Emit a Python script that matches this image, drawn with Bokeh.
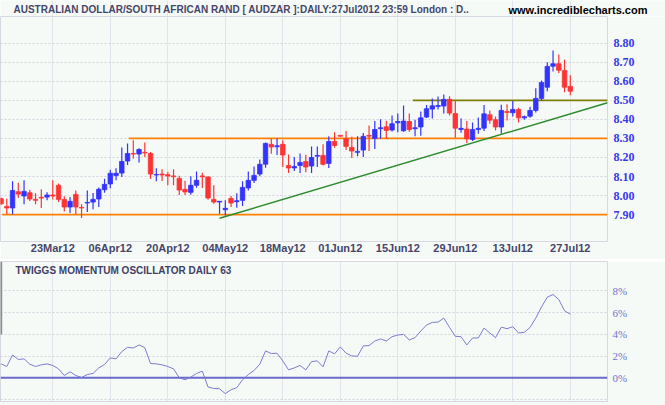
from bokeh.plotting import figure
from bokeh.models import ColumnDataSource, FixedTicker, Label, Range1d, Grid, PrintfTickFormatter
from bokeh.layouts import column
from bokeh.embed import file_html
from bokeh.resources import INLINE

# ---- data -----------------------------------------------------------------
opens = [7.984, 7.943, 7.935, 8.020, 7.998, 8.015, 7.980, 7.991, 7.992, 8.003,
         8.054, 7.980, 7.940, 8.006, 7.938, 7.961, 7.966, 7.982, 8.031, 8.061,
         8.106, 8.118, 8.181, 8.221, 8.218, 8.227, 8.221, 8.108, 8.113, 8.110,
         8.103, 8.090, 8.033, 8.017, 8.054, 8.103, 8.097, 7.980, 7.966, 7.926,
         7.985, 7.968, 7.975, 8.040, 8.080, 8.113, 8.165, 8.269, 8.256, 8.269,
         8.158, 8.145, 8.158, 8.179, 8.155, 8.207, 8.211, 8.169, 8.284, 8.316,
         8.298, 8.253, 8.227, 8.239, 8.316, 8.300, 8.351, 8.361, 8.344, 8.382,
         8.340, 8.389, 8.351, 8.360, 8.412, 8.454, 8.468, 8.470, 8.505, 8.431,
         8.347, 8.349, 8.295, 8.347, 8.354, 8.424, 8.398, 8.360, 8.442, 8.435,
         8.452, 8.408, 8.417, 8.447, 8.510, 8.569, 8.679, 8.692, 8.657, 8.573]
highs = [7.990, 7.984, 8.075, 8.068, 8.080, 8.031, 8.012, 8.033, 8.017, 8.080,
         8.064, 7.996, 7.992, 8.027, 7.954, 8.027, 8.013, 8.043, 8.089, 8.136,
         8.143, 8.253, 8.274, 8.290, 8.249, 8.279, 8.229, 8.143, 8.138, 8.124,
         8.138, 8.104, 8.078, 8.101, 8.127, 8.120, 8.103, 8.054, 7.972, 7.975,
         7.998, 8.012, 8.075, 8.127, 8.153, 8.190, 8.279, 8.300, 8.300, 8.291,
         8.216, 8.202, 8.221, 8.214, 8.258, 8.258, 8.269, 8.311, 8.332, 8.318,
         8.339, 8.309, 8.311, 8.328, 8.368, 8.391, 8.401, 8.393, 8.421, 8.431,
         8.473, 8.431, 8.398, 8.442, 8.475, 8.510, 8.520, 8.531, 8.522, 8.496,
         8.405, 8.391, 8.384, 8.410, 8.475, 8.447, 8.415, 8.477, 8.480, 8.496,
         8.461, 8.421, 8.466, 8.564, 8.604, 8.700, 8.762, 8.741, 8.713, 8.632]
lows = [7.950, 7.902, 7.902, 7.987, 7.954, 7.971, 7.954, 7.935, 7.975, 7.980,
        7.966, 7.917, 7.909, 7.902, 7.882, 7.914, 7.928, 7.940, 8.015, 8.038,
        8.080, 8.097, 8.160, 8.195, 8.174, 8.202, 8.087, 8.075, 8.076, 8.054,
        8.054, 8.003, 8.003, 8.005, 8.041, 8.040, 7.978, 7.957, 7.905, 7.896,
        7.940, 7.936, 7.945, 8.027, 8.066, 8.101, 8.146, 8.220, 8.213, 8.150,
        8.118, 8.129, 8.118, 8.122, 8.118, 8.150, 8.158, 8.145, 8.251, 8.310,
        8.239, 8.197, 8.206, 8.202, 8.234, 8.244, 8.298, 8.298, 8.337, 8.332,
        8.335, 8.335, 8.312, 8.314, 8.407, 8.405, 8.452, 8.431, 8.421, 8.304,
        8.330, 8.276, 8.286, 8.325, 8.339, 8.377, 8.342, 8.326, 8.394, 8.415,
        8.384, 8.398, 8.408, 8.436, 8.499, 8.548, 8.651, 8.643, 8.543, 8.527]
closes = [7.957, 7.935, 8.027, 8.008, 8.022, 7.982, 7.975, 7.987, 8.003, 7.998,
          7.980, 7.940, 7.970, 7.940, 7.935, 7.964, 7.980, 8.033, 8.059, 8.117,
          8.117, 8.179, 8.221, 8.218, 8.242, 8.224, 8.113, 8.111, 8.108, 8.103,
          8.099, 8.029, 8.019, 8.054, 8.080, 8.099, 7.987, 7.966, 7.970, 7.933,
          7.961, 7.973, 8.043, 8.080, 8.106, 8.164, 8.274, 8.255, 8.262, 8.213,
          8.145, 8.153, 8.174, 8.150, 8.200, 8.211, 8.164, 8.284, 8.263, 8.312,
          8.258, 8.234, 8.232, 8.311, 8.312, 8.347, 8.356, 8.342, 8.377, 8.389,
          8.391, 8.347, 8.356, 8.408, 8.456, 8.471, 8.473, 8.505, 8.433, 8.354,
          8.353, 8.298, 8.347, 8.353, 8.429, 8.396, 8.360, 8.447, 8.436, 8.452,
          8.408, 8.414, 8.447, 8.510, 8.594, 8.678, 8.692, 8.658, 8.569, 8.548]
momentum = [1.28, 1.04, 2.10, 1.68, 1.74, 1.25, 1.04, 1.19, 1.28, 1.13,
            0.82, 0.21, 0.55, 0.21, 0.03, 0.30, 0.40, 0.91, 1.22, 1.83,
            1.74, 2.41, 2.80, 2.74, 3.02, 2.77, 1.31, 1.28, 1.19, 1.04,
            0.82, 0.00, -0.18, 0.06, 0.40, 0.61, -0.85, -0.98, -1.01, -1.46,
            -1.10, -0.91, -0.18, 0.30, 0.67, 1.25, 2.47, 2.23, 2.26, 1.55,
            0.73, 0.91, 1.13, 0.73, 1.49, 1.55, 1.01, 2.47, 2.20, 2.84,
            2.26, 2.01, 1.98, 2.93, 2.96, 3.38, 3.57, 3.38, 3.78, 3.93,
            3.99, 3.48, 3.69, 4.30, 4.85, 5.09, 5.12, 5.49, 4.63, 3.81,
            3.78, 3.02, 3.66, 3.66, 4.57, 4.12, 3.69, 4.66, 4.51, 4.70,
            4.12, 4.18, 4.63, 5.49, 6.52, 7.41, 7.65, 7.20, 6.16, 5.85]

tick_days = [9, 19, 29, 39, 49, 59, 69, 79, 89, 99]
tick_labels = ["23Mar12", "06Apr12", "20Apr12", "04May12", "18May12",
               "01Jun12", "15Jun12", "29Jun12", "13Jul12", "27Jul12"]
price_ticks = [7.9, 8.0, 8.1, 8.2, 8.3, 8.4, 8.5, 8.6, 8.7, 8.8]
mom_ticks = [-2, 0, 2, 4, 6, 8]

support_low = 7.90
support_low_days = [0.2, 105.5]
support_mid = 8.30
support_mid_days = [22.2, 105.5]
resist = 8.50
resist_days = [71.6, 105.5]
trend_days = [38.0, 105.47]
trend_prices = [7.881, 8.487]

title_text = "AUSTRALIAN DOLLAR/SOUTH AFRICAN RAND [ AUDZAR ]:DAILY:27Jul2012 23:59 London : D.."
site_text = "www.incrediblecharts.com"
osc_title = "TWIGGS MOMENTUM OSCILLATOR DAILY 63"

# ---- styles ---------------------------------------------------------------
BG = "#F5FAF7"
UP = "#3333FF"
DOWN = "#FF3333"
GRID_V = "#E3E3EC"
GRID_H = "#D2D2DC"
TXT = "#46466A"
W = 665

days = list(range(len(opens)))
colors = [UP if c >= o else DOWN for o, c in zip(opens, closes)]
src = ColumnDataSource(dict(
    x=days, o=opens, h=highs, l=lows, c=closes,
    top=[max(o, c) for o, c in zip(opens, closes)],
    bot=[min(o, c) for o, c in zip(opens, closes)],
    col=colors, mom=momentum))

X0 = -0.096
xr = Range1d(X0, X0 + 607 / 5.75)

# ---- header strip (titles) -----------------------------------------------
hdr = figure(width=W, height=16, x_range=Range1d(X0, X0 + W / 5.75), y_range=Range1d(0, 16),
             x_axis_type=None, y_axis_type=None, output_backend="svg", toolbar_location=None,
             min_border_left=0, min_border_right=0, min_border_top=0, min_border_bottom=0)
hdr.frame_align = False
hdr.background_fill_color = BG
hdr.border_fill_color = BG
hdr.outline_line_color = None
hdr.add_layout(Grid(dimension=0, ticker=FixedTicker(ticks=tick_days), grid_line_color=GRID_V))
hdr.add_layout(Label(x=13, y=7, x_units="screen", y_units="screen", text=title_text,
                     text_font="Liberation Sans", text_font_style="bold",
                     text_font_size="10px", text_color=TXT, text_baseline="middle"))
hdr.add_layout(Label(x=508, y=7, x_units="screen", y_units="screen", text=site_text,
                     text_font="Liberation Sans", text_font_style="bold",
                     text_font_size="11px", text_color="#000000", text_baseline="middle"))

# ---- price panel ------------------------------------------------------------
p1 = figure(width=W, height=243, x_range=xr, y_range=Range1d(7.759, 8.940),
            y_axis_location="right", output_backend="svg", toolbar_location=None,
            min_border_left=0, min_border_top=0, min_border_right=58, min_border_bottom=18)
p1.background_fill_color = BG
p1.border_fill_color = BG
p1.outline_line_color = "#D8D8E0"

p1.xgrid.ticker = FixedTicker(ticks=tick_days)
p1.xgrid.grid_line_color = GRID_V
p1.ygrid.ticker = FixedTicker(ticks=price_ticks)
p1.ygrid.grid_line_color = GRID_H
p1.ygrid.grid_line_dash = "2 2"

p1.xaxis.ticker = FixedTicker(ticks=tick_days)
p1.xaxis.major_label_overrides = {d: t for d, t in zip(tick_days, tick_labels)}
p1.xaxis.axis_line_color = None
p1.xaxis.major_tick_line_color = None
p1.xaxis.minor_tick_line_color = None
p1.xaxis.major_tick_out = 0
p1.xaxis.major_tick_in = 0
p1.xaxis.major_label_standoff = 0
p1.xaxis.major_label_text_font = "Liberation Sans"
p1.xaxis.major_label_text_font_style = "bold"
p1.xaxis.major_label_text_font_size = "11px"
p1.xaxis.major_label_text_color = TXT

p1.yaxis.ticker = FixedTicker(ticks=price_ticks)
p1.yaxis.major_label_overrides = {t: "%.2f" % t for t in price_ticks}
p1.yaxis.axis_line_color = None
p1.yaxis.major_tick_line_color = None
p1.yaxis.minor_tick_line_color = None
p1.yaxis.major_tick_out = 0
p1.yaxis.major_label_standoff = 6
p1.yaxis.major_label_text_font = "Liberation Serif"
p1.yaxis.major_label_text_font_style = "bold"
p1.yaxis.major_label_text_font_size = "12px"
p1.yaxis.major_label_text_color = "#3838F0"

p1.line(support_low_days, [support_low, support_low], line_color="#FF8000", line_width=1.7)
p1.line(support_mid_days, [support_mid, support_mid], line_color="#FF8000", line_width=1.7)
p1.line(resist_days, [resist, resist], line_color="#808000", line_width=1.7)
p1.line(trend_days, trend_prices, line_color="#2E8B2E", line_width=1.5)

p1.segment(x0="x", y0="h", x1="x", y1="l", line_color="col", line_width=1.2, source=src)
p1.vbar(x="x", width=0.78, top="top", bottom="bot", fill_color="col",
        line_color="col", line_width=0.8, source=src)

# ---- separator --------------------------------------------------------------
sep = figure(width=W, height=2, x_axis_type=None, y_axis_type=None,
             output_backend="svg", toolbar_location=None,
             min_border_left=0, min_border_right=0, min_border_top=0, min_border_bottom=0)
sep.frame_align = False
sep.background_fill_color = "#A8A8A8"
sep.border_fill_color = "#A8A8A8"
sep.outline_line_color = None

# ---- oscillator panel ---------------------------------------------------------
p2 = figure(width=W, height=144, x_range=xr, y_range=Range1d(-2.18, 10.69),
            y_axis_location="right", output_backend="svg", toolbar_location=None,
            min_border_left=0, min_border_top=0, min_border_right=58, min_border_bottom=4)
p2.background_fill_color = BG
p2.border_fill_color = BG
p2.outline_line_color = "#D8D8E0"
p2.xaxis.visible = False
p2.xgrid.ticker = FixedTicker(ticks=tick_days)
p2.xgrid.grid_line_color = GRID_V
p2.ygrid.ticker = FixedTicker(ticks=mom_ticks)
p2.ygrid.grid_line_color = GRID_H
p2.ygrid.grid_line_dash = "2 2"

p2.yaxis.ticker = FixedTicker(ticks=mom_ticks[1:])
p2.yaxis.formatter = PrintfTickFormatter(format="%d%%")
p2.yaxis.axis_line_color = None
p2.yaxis.major_tick_line_color = None
p2.yaxis.minor_tick_line_color = None
p2.yaxis.major_tick_out = 0
p2.yaxis.major_label_standoff = 5
p2.yaxis.major_label_text_font = "Liberation Serif"
p2.yaxis.major_label_text_font_size = "11px"
p2.yaxis.major_label_text_color = "#7474C8"

p2.line([xr.start, xr.end], [0, 0], line_color="#6A6ACC", line_width=2)
p2.line(x="x", y="mom", source=src, line_color="#7C7CCF", line_width=1)
p2.line([xr.start + 0.12, xr.start + 0.12], [10.69, 3.98], line_color="#8C8C8C", line_width=2)

p2.add_layout(Label(x=15, y=131, x_units="screen", y_units="screen", text=osc_title,
                    text_font="Liberation Sans", text_font_style="bold",
                    text_font_size="10px", text_color="#404064", text_baseline="middle"))

layout = column(hdr, p1, sep, p2, spacing=0)
open("out.html", "w").write(file_html(layout, INLINE))
